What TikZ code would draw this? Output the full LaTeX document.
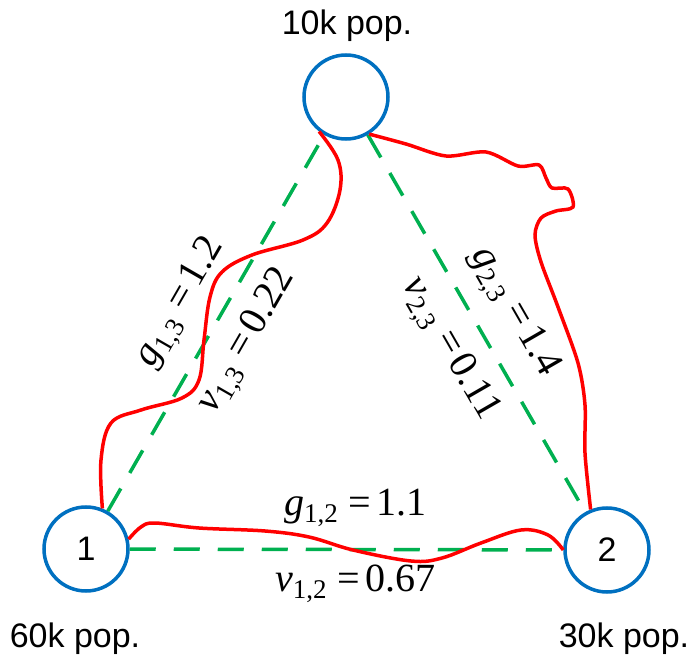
\documentclass[tikz,border=0pt]{standalone}
\usepackage{fontspec}
\setmainfont{Liberation Sans}
\newfontfamily\timesfont{Liberation Serif}
\definecolor{nodeblue}{HTML}{0070C0}
\definecolor{linkgreen}{HTML}{00B050}
% weight label: symbol, subscript, value
\newcommand{\wlab}[3]{{\itshape #1}\raisebox{-7pt}{\fontsize{27}{27}\selectfont #2}\hspace{11pt}=\hspace{5pt}#3}

\begin{document}
\begin{tikzpicture}[
  x=1pt,y=-1pt,
  town/.style={draw=nodeblue,line width=3.5pt,circle,minimum size=84pt,inner sep=0pt,font=\fontsize{34}{40}\selectfont},
  pop/.style={font=\fontsize{34}{40}\selectfont},
  link/.style={draw=linkgreen,line width=3.5pt,dash pattern=on 26pt off 18pt},
  route/.style={draw=red,line width=3.5pt},
  wgt/.style={sloped,inner sep=3pt,font=\timesfont\fontsize{40}{48}\selectfont}
]
  \useasboundingbox (0,0) rectangle (689,655);

  \node[town] (n3) at (346,97) {};
  \node[town] (n1) at (86,549) {1};
  \node[town] (n2) at (607,550) {2};

  \node[pop] (pop3) at (347,26) {10k pop.};
  \node[pop] (pop1) at (75,639) {60k pop.};
  \node[pop] (pop2) at (624,639) {30k pop.};

  % straight links with their weights
  \draw[link] (n1) -- node[wgt,above=16pt] {\wlab{g}{1,3}{1.2}}
                      node[wgt,below=13pt] {\wlab{v}{1,3}{0.22}} (n3);
  \draw[link] (n3) -- node[wgt,pos=0.52,above=14pt] {\wlab{g}{2,3}{1.4}}
                      node[wgt,pos=0.52,below=13pt] {\wlab{v}{2,3}{0.11}} (n2);
  \draw[link] (n1) -- node[wgt,pos=0.52,above=18pt] {\wlab{g}{1,2}{1.1}}
                      node[wgt,pos=0.52,below=11pt] {\wlab{v}{1,2}{0.67}} (n2);

  % real routes
  \draw[route] plot[smooth,tension=0.6] coordinates {(n1.68) (101,460) (111,423) (141,410) (182,398)
    (199,380) (204,340) (210,297) (222,272) (252,255) (303,240) (327,223) (340,190) (338,160) (n3.232)};
  \draw[route] plot[smooth,tension=0.5] coordinates {(n3.302) (406,144) (446,156) (486,152) (518,166)
    (539,165) (546,178) (552,188) (568,189) (573,207) (556,211) (541,218) (535,235) (541,262)
    (558,307) (578,363) (585,405) (585,453) (n2.112)};
  \draw[route] plot[smooth,tension=0.6] coordinates {(n1.13) (141,527) (155,523) (199,528) (265,531)
    (309,537) (353,550) (411,561) (442,558) (481,543) (521,530) (548,535) (n2.180)};
\end{tikzpicture}
\end{document}
